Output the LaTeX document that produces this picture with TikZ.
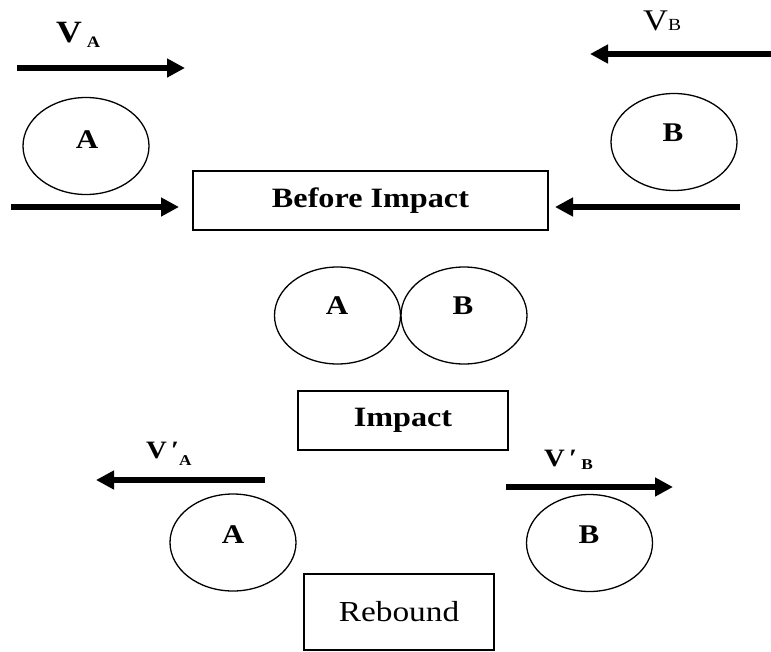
\documentclass[tikz,border=0pt]{standalone}
\usepackage{fontspec}
\setmainfont{Liberation Serif}[FakeStretch=1.15]
\usetikzlibrary{arrows.meta,shapes.geometric}
\begin{document}
\begin{tikzpicture}[x=1pt,y=-1pt,
  ball/.style={draw, line width=1.3pt, ellipse, minimum width=126pt, minimum height=97pt, inner sep=0pt},
  balllbl/.style={font=\fontsize{27}{27}\selectfont\bfseries, inner sep=0pt},
  stagebox/.style={draw, line width=2pt, rectangle, inner sep=0pt},
  arr/.style={line width=6pt, -{Triangle[length=18pt,width=18pt]}},
  vlbl/.style={anchor=base west, inner sep=0pt}]
\useasboundingbox (0,0) rectangle (771,651);
% top row
\node[ball] (ba1) at (86,146) {};
\node[balllbl] (la1) at (87,140) {A};
\node[ball] (bb1) at (674,142) {};
\node[balllbl] (lb1) at (673,133) {B};
\node[stagebox, minimum width=355pt, minimum height=59pt, font=\fontsize{28}{28}\selectfont\bfseries] (before) at (370.5,200.5) {Before Impact};
% velocity labels
\node[vlbl] (lva) at (56,42) {\fontsize{31}{31}\selectfont\bfseries V\hspace{5pt}\raisebox{-5pt}{\fontsize{16}{16}\selectfont A}};
\node[vlbl] (lvb) at (643,30) {\fontsize{30}{30}\selectfont V\fontsize{17}{17}\selectfont B};
% top arrows
\coordinate (a1s) at (17,68);
\coordinate (a1e) at (185,68);
\coordinate (a2s) at (771,54);
\coordinate (a2e) at (590,54);
\coordinate (a3s) at (11,207);
\coordinate (a4s) at (740,207);
\draw[arr] (a1s) -- (a1e);
\draw[arr] (a2s) -- (a2e);
\draw[arr, shorten >=13pt] (a3s) -- (a3s -| before.west);
\draw[arr, shorten >=6pt] (a4s) -- (a4s -| before.east);
% impact
\node[ball] (ba2) at (337.5,315.5) {};
\node[ball] (bb2) at (464,315.5) {};
\node[balllbl] (la2) at (337,306) {A};
\node[balllbl] (lb2) at (463,306) {B};
\node[stagebox, minimum width=210pt, minimum height=59pt, font=\fontsize{28}{28}\selectfont\bfseries] (impact) at (403,420.5) {Impact};
% rebound
\node[vlbl] (lvpa) at (146,458) {\fontsize{25}{25}\selectfont\bfseries V\,′\raisebox{-7pt}{\fontsize{15}{15}\selectfont A}};
\node[vlbl] (lvpb) at (544,466) {\fontsize{25}{25}\selectfont\bfseries V\,′\,\raisebox{-3pt}{\fontsize{15}{15}\selectfont B}};
\coordinate (a5s) at (265,480);
\coordinate (a5e) at (96,480);
\coordinate (a6s) at (506,487);
\coordinate (a6e) at (673,487);
\draw[arr] (a5s) -- (a5e);
\draw[arr] (a6s) -- (a6e);
\node[ball] (ba3) at (233,542.5) {};
\node[balllbl] (la3) at (233,535) {A};
\node[ball] (bb3) at (589.5,543) {};
\node[balllbl] (lb3) at (589,535) {B};
\node[stagebox, minimum width=190pt, minimum height=76pt, font=\fontsize{29}{29}\selectfont] (rebound) at (399,612) {Rebound};
\end{tikzpicture}
\end{document}
